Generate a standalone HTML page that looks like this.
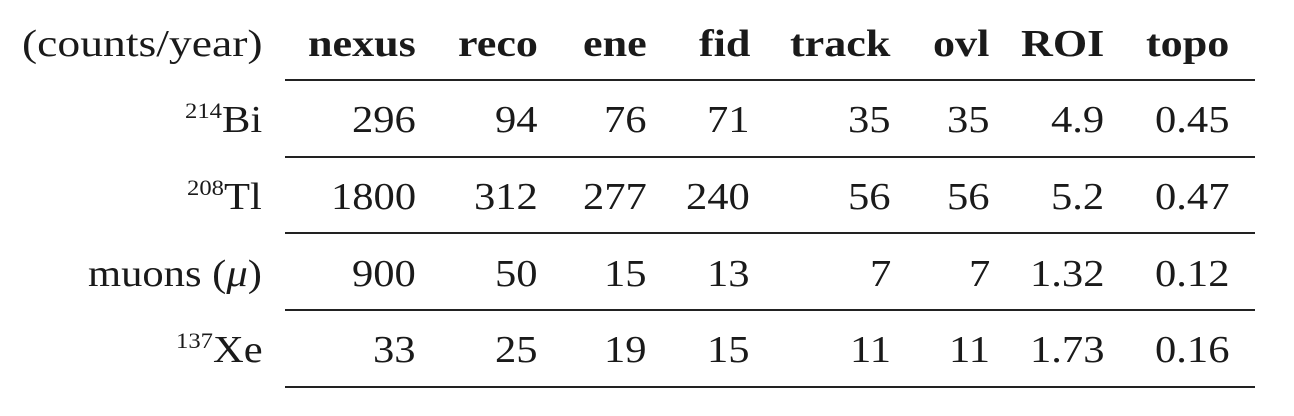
<!DOCTYPE html>
<html><head><meta charset="utf-8">
<style>
body{margin:0;background:#fff;}
#t{position:relative;width:1294px;height:416px;overflow:hidden;font-family:"Liberation Serif",serif;color:#1a1a1a;font-size:38px;}
.c{position:absolute;line-height:38px;white-space:nowrap;transform-origin:0 0;transform:translateX(-100%) scaleX(1.12);}
.h{font-weight:bold;transform:translateX(-100%) scaleX(1.16);}
.wide{transform:translateX(-100%) scaleX(1.2);}
.rule{position:absolute;left:285px;width:970px;height:2px;background:#222;}
sup{font-size:22px;vertical-align:0;position:relative;top:-14px;}
</style></head><body>
<div id="t"></div>
<script>
var cols=["nexus","reco","ene","fid","track","ovl","ROI","topo"];
var rights=[416,538,647,750,891,990,1105,1230];
var rowLabels=["<sup>214</sup>Bi","<sup>208</sup>Tl","muons (<i>μ</i>)","<sup>137</sup>Xe"];
var rowNames=["bi214","tl208","muons","xe137"];
var rowBi=["296","94","76","71","35","35","4.9","0.45"];
var rowTl=["1800","312","277","240","56","56","5.2","0.47"];
var rowMu=["900","50","15","13","7","7","1.32","0.12"];
var rowXe=["33","25","19","15","11","11","1.73","0.16"];
var rows=[rowBi,rowTl,rowMu,rowXe];
var baselines=[57,133,210,287,363];
var ruleYs=[79,156,232,309,386];
var t=document.getElementById('t');
function cell(html,right,base,cls,name){
  var d=document.createElement('div');
  d.className='c'+(cls?' '+cls:'');
  d.style.top=(base-32)+'px';
  d.innerHTML=html;
  
  
  t.appendChild(d);
  // position so right edge (after scale) is at 'right'
  var w=d.offsetWidth;
  var s=cls==='h'?1.16:(cls==='wide'?1.2:1.12);
  d.style.transform='scaleX('+s+')';
  d.style.left=(right-w*s)+'px';
}
cell("(counts/year)",262,baselines[0],'wide','units-header');
cols.forEach(function(c,i){cell(c,rights[i],baselines[0],'h','header-'+c.toLowerCase());});
rows.forEach(function(r,j){
  cell(rowLabels[j],262,baselines[j+1],'','row-label-'+rowNames[j]);
  r.forEach(function(v,i){cell(v,rights[i],baselines[j+1],'','cell-'+rowNames[j]+'-'+cols[i].toLowerCase());});
});
ruleYs.forEach(function(y,i){
  var l=document.createElement('div');
  l.className='rule';l.style.top=y+'px';
  
  
  t.appendChild(l);
});
</script>
</body></html>
